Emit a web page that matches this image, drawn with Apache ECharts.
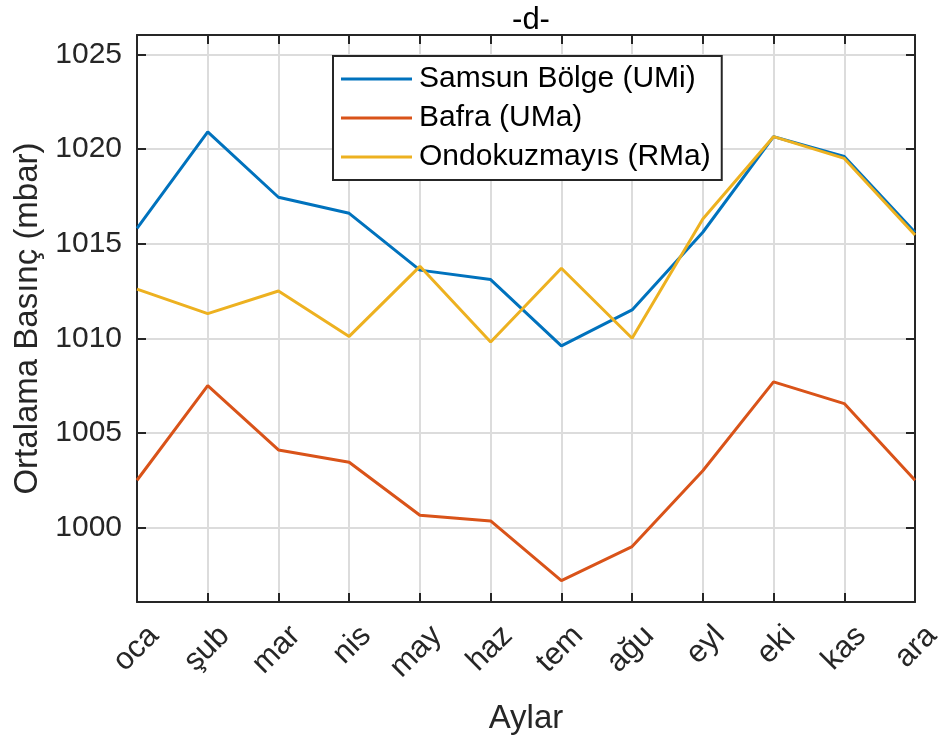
<!DOCTYPE html>
<html>
<head>
<meta charset="utf-8">
<script src="https://cdn.jsdelivr.net/npm/echarts@6/dist/echarts.min.js"></script>
<style>
  html, body { margin: 0; padding: 0; background: #fff; }
  #chart { width: 944px; height: 742px; }
</style>
</head>
<body>
<div id="chart"></div>
<script>
// Monthly mean pressure (mbar) at three stations
const months = ['oca', 'şub', 'mar', 'nis', 'may', 'haz', 'tem', 'ağu', 'eyl', 'eki', 'kas', 'ara'];
const samsun = [1015.8, 1020.9, 1017.45, 1016.6, 1013.6, 1013.1, 1009.6, 1011.5, 1015.6, 1020.65, 1019.6, 1015.6];
const bafra = [1002.5, 1007.5, 1004.1, 1003.45, 1000.65, 1000.35, 997.2, 999.0, 1003.0, 1007.7, 1006.55, 1002.5];
const ondokuzmayis = [1012.6, 1011.3, 1012.5, 1010.1, 1013.8, 1009.8, 1013.7, 1010.0, 1016.3, 1020.65, 1019.5, 1015.45];
const seriesNames = ['Samsun Bölge (UMi)', 'Bafra (UMa)', 'Ondokuzmayıs (RMa)'];
const yTicks = [1000, 1005, 1010, 1015, 1020, 1025];
const yMin = 996.07;
const yMax = 1026.02;

const FONT = '"Liberation Sans", Arial, Helvetica, sans-serif';
const INK = '#262626';
const GRID = '#dcdcdc';
const colors = ['#0072BD', '#D95319', '#EDB120'];

const chart = echarts.init(document.getElementById('chart'), null, { renderer: 'canvas' });

const baseY = {
  type: 'value',
  min: yMin,
  max: yMax,
  axisLine: { show: true, onZero: false, lineStyle: { color: INK, width: 2 } },
  axisTick: { show: true, inside: true, length: 9, customValues: yTicks, lineStyle: { color: INK, width: 2 } }
};

const option = {
  animation: false,
  backgroundColor: '#fff',
  textStyle: { fontFamily: FONT },
  title: {
    text: '-d-',
    left: 526,
    textAlign: 'center',
    top: 0,
    textStyle: { fontFamily: FONT, fontSize: 31, fontWeight: 'normal', color: '#000' }
  },
  grid: { left: 137, right: 29, top: 35, bottom: 140, containLabel: false, outerBoundsMode: 'none' },
  legend: {
    orient: 'vertical',
    left: 333,
    top: 56,
    padding: [5, 11, 5, 8],
    itemGap: 3,
    itemWidth: 71,
    itemHeight: 3,
    icon: 'rect',
    align: 'left',
    backgroundColor: '#fff',
    borderColor: INK,
    borderWidth: 2,
    borderRadius: 0,
    data: seriesNames,
    textStyle: { fontFamily: FONT, fontSize: 30, color: '#000', lineHeight: 36, padding: [0, 0, 0, 2] }
  },
  xAxis: [
    {
      type: 'category',
      data: months,
      boundaryGap: false,
      position: 'bottom',
      name: 'Aylar',
      nameLocation: 'middle',
      nameGap: 100,
      nameTextStyle: { fontFamily: FONT, fontSize: 33, color: INK },
      axisLine: { show: true, onZero: false, lineStyle: { color: INK, width: 2 } },
      axisTick: { show: true, inside: true, length: 9, alignWithLabel: true, lineStyle: { color: INK, width: 2 } },
      axisLabel: {
        interval: 0,
        rotate: 45,
        margin: 12,
        align: 'right',
        verticalAlign: 'top',
        padding: [7, 0, 0, 0],
        lineHeight: 34,
        fontFamily: FONT,
        fontSize: 31,
        color: INK
      },
      splitLine: { show: true, lineStyle: { color: GRID, width: 2 } }
    },
    {
      type: 'category',
      data: months,
      boundaryGap: false,
      position: 'top',
      axisLine: { show: true, onZero: false, lineStyle: { color: INK, width: 2 } },
      axisTick: { show: true, inside: true, length: 9, alignWithLabel: true, lineStyle: { color: INK, width: 2 } },
      axisLabel: { show: false },
      splitLine: { show: false }
    }
  ],
  yAxis: [
    Object.assign({}, baseY, {
      position: 'left',
      name: 'Ortalama Basınç (mbar)',
      nameLocation: 'middle',
      nameGap: 91,
      nameRotate: 90,
      nameTextStyle: { fontFamily: FONT, fontSize: 33, color: INK },
      axisLabel: {
        customValues: yTicks,
        margin: 15,
        fontFamily: FONT,
        fontSize: 30,
        color: INK,
        padding: [6, 0, 0, 0],
        formatter: v => String(v)
      },
      splitLine: { show: true, lineStyle: { color: GRID, width: 2 } }
    }),
    Object.assign({}, baseY, {
      position: 'right',
      axisLabel: { show: false },
      splitLine: { show: false }
    })
  ],
  series: seriesNames.map((name, i) => ({
    name: name,
    type: 'line',
    data: [samsun, bafra, ondokuzmayis][i],
    xAxisIndex: 0,
    yAxisIndex: 0,
    showSymbol: false,
    symbol: 'none',
    color: colors[i],
    lineStyle: { color: colors[i], width: 3 },
    itemStyle: { color: colors[i] },
    z: 3 + i
  }))
};

chart.setOption(option);
</script>
</body>
</html>
